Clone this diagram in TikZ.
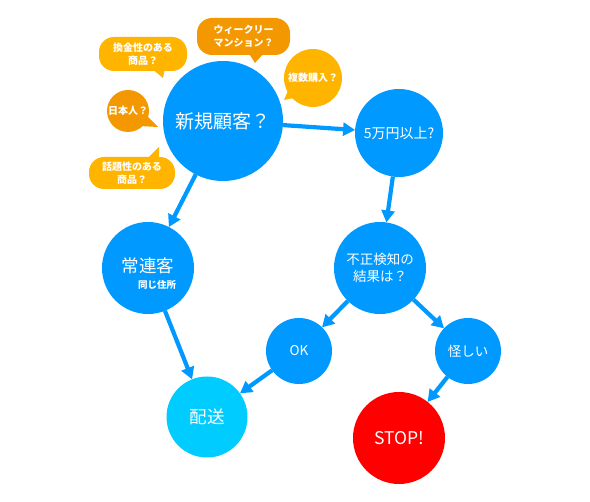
\documentclass[tikz,border=0pt]{standalone}
\usepackage{fontspec}
\setmainfont{Noto Sans CJK JP}
\usepackage{xcolor}
\definecolor{skyblue}{HTML}{0099FF}
\definecolor{aqua}{HTML}{00CCFF}
\definecolor{tangerine}{HTML}{F39800}
\definecolor{saffron}{HTML}{FFB400}
\usepackage{tikz}
\usetikzlibrary{arrows.meta,calc}

\begin{document}
\begin{tikzpicture}[x=1pt, y=-1pt, >={Triangle[length=12pt,width=13pt]}]
    \tikzstyle{circ}=[circle, fill=skyblue, text=white, inner sep=0pt, outer sep=0pt, align=center]
    \tikzstyle{bubble}=[rectangle, rounded corners=15pt, text=white, inner sep=0pt, align=center, font=\bfseries\fontsize{10}{13}\selectfont]
    \tikzstyle{talk}=[circle, text=white, inner sep=0pt, font=\bfseries\fontsize{10}{12}\selectfont]
    \tikzstyle{flow}=[->, draw=skyblue, line width=4.2pt]

    \useasboundingbox (0,0) rectangle (590,502);

    % Flow chart states
    \node[circ, minimum size=120pt, font=\fontsize{19}{22}\selectfont] (new) at (223,121) {新規顧客？};
    \node[circ, minimum size=88pt, font=\fontsize{14}{16}\selectfont] (over) at (399,133) {5万円以上?};
    \node[circ, minimum size=92pt, font=\fontsize{13.5}{17}\selectfont] (check) at (380,268) {不正検知の\\結果は？};
    \node[circ, minimum size=92pt, font=\fontsize{17.5}{20}\selectfont] (regular) at (148,268) {\raisebox{5pt}{常連客}};
    \node[text=white, font=\bfseries\fontsize{9.5}{10}\selectfont] (same) at (157,285) {同じ住所};
    \node[circ, minimum size=66pt, font=\fontsize{13.5}{15}\selectfont] (ok) at (299,351) {OK};
    \node[circ, minimum size=66pt, font=\fontsize{13.5}{15}\selectfont] (odd) at (468,351) {怪しい};
    \node[circ, fill=aqua, minimum size=81pt, font=\fontsize{17.5}{20}\selectfont] (ship) at (207,417) {配送};
    \node[circ, fill=red, minimum size=92pt, font=\fontsize{17.5}{20}\selectfont] (stop) at (399,438) {STOP!};

    % Speech bubbles
    \node[bubble, fill=tangerine, minimum width=93pt, minimum height=37pt] (weekly) at (243.5,36.5) {ウィークリー\\マンション？};
    \fill[tangerine] (248,52) -- (255,63) -- (265,52) -- cycle;
    \node[bubble, fill=saffron, minimum width=88pt, minimum height=34pt] (cash) at (143,54) {換金性のある\\商品？};
    \fill[saffron] (151,68) -- (163,78) -- (165,68) -- cycle;
    \node[bubble, fill=saffron, minimum width=86pt, minimum height=32pt] (topic) at (132,173) {話題性のある\\商品？};
    \fill[saffron] (146,160) -- (159,147) -- (159,160) -- cycle;
    \node[talk, fill=saffron, minimum size=58pt] (multi) at (313,78) {複数購入？};
    \fill[saffron] (290,86) -- (284,100) -- (299,97) -- cycle;
    \node[talk, fill=tangerine, minimum size=42pt] (japan) at (128,111) {日本人？};
    \fill[tangerine] (144,113) -- (158,127) -- (139,126) -- cycle;

    % Transitions
    \begin{scope}[flow]
    \path (new) edge (over)
          (new) edge (regular)
          (over) edge (check)
          (check) edge (ok)
          (check) edge (odd)
          (odd) edge (stop)
          (regular) edge (ship)
          (ok) edge (ship);
    \end{scope}
\end{tikzpicture}
\end{document}
